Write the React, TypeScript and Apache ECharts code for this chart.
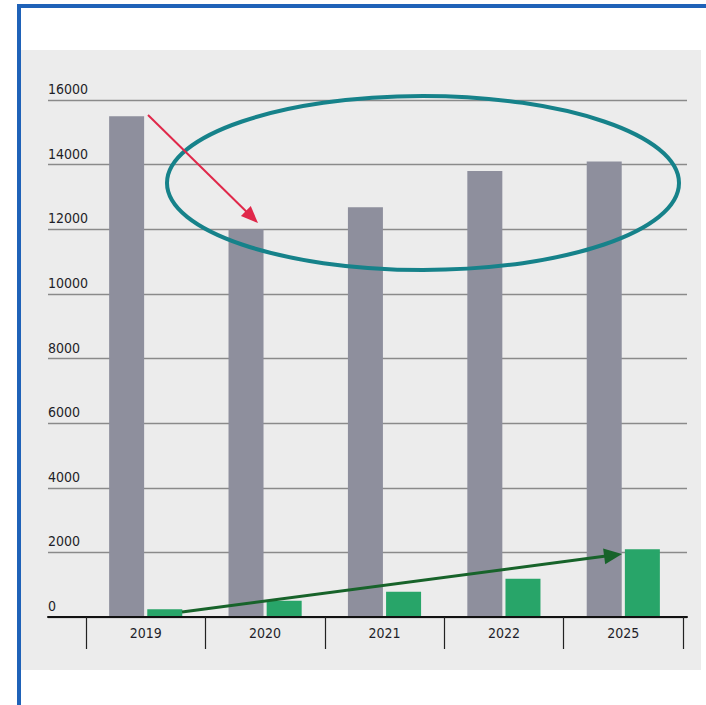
import React, { useEffect, useRef } from "react";
import * as echarts from "echarts";

const categories = ["2019", "2020", "2021", "2022", "2025"];
const grayValues = [15500, 12000, 12680, 13800, 14100];
const greenValues = [240, 500, 780, 1180, 2100];
const yMin = 0;
const yMax = 16000;
const yInterval = 2000;

const FONT = "'Liberation Sans Narrow', 'DejaVu Sans Condensed', 'Roboto', sans-serif";

function arrow(x1: number, y1: number, x2: number, y2: number, color: string, width: number, headLen: number, headHalf: number) {
  const dx = x2 - x1;
  const dy = y2 - y1;
  const len = Math.sqrt(dx * dx + dy * dy);
  const ux = dx / len;
  const uy = dy / len;
  const bx = x2 - ux * headLen;
  const by = y2 - uy * headLen;
  const px = -uy;
  const py = ux;
  return [
    {
      type: "line",
      shape: { x1, y1, x2: bx + ux * 2, y2: by + uy * 2 },
      style: { stroke: color, lineWidth: width },
      z: 100,
    },
    {
      type: "polygon",
      shape: {
        points: [
          [x2, y2],
          [bx + px * headHalf, by + py * headHalf],
          [bx - px * headHalf, by - py * headHalf],
        ],
      },
      style: { fill: color },
      z: 100,
    },
  ];
}

export default function App() {
  const ref = useRef<HTMLDivElement>(null);
  useEffect(() => {
    if (!ref.current) return;
    const chart = echarts.init(ref.current, null, { renderer: "svg" });
    chart.setOption({
      animation: false,
      backgroundColor: "#ffffff",
      grid: [
        { left: 48, right: 19, top: 100, bottom: 88 },
        { left: 86, right: 23, top: 100, bottom: 88 },
      ],
      xAxis: [
        {
          gridIndex: 0,
          type: "value",
          min: 0,
          max: 1,
          axisLine: { show: true, onZero: false, lineStyle: { color: "#111", width: 2 } },
          axisTick: { show: false },
          axisLabel: { show: false },
          splitLine: { show: false },
          z: 5,
        },
        {
          gridIndex: 1,
          type: "category",
          data: categories,
          axisLine: { show: true, lineStyle: { color: "#111", width: 2 } },
          axisTick: { show: true, length: 32, lineStyle: { color: "#222", width: 1.2 } },
          axisLabel: {
            color: "#1e1e28",
            fontSize: 14,
            fontFamily: FONT,
            margin: 9,
          },
          z: 5,
        },
      ],
      yAxis: [
        {
          gridIndex: 0,
          type: "value",
          min: yMin,
          max: yMax,
          interval: yInterval,
          axisLine: { show: false },
          axisTick: { show: false },
          axisLabel: {
            inside: true,
            margin: 0,
            color: "#1e1e28",
            fontSize: 14,
            fontFamily: FONT,
            align: "left",
            verticalAlign: "bottom",
            padding: [0, 0, 4, 0],
            formatter: (v: number) => String(v),
          },
          splitLine: { show: true, lineStyle: { color: "#8a8a8a", width: 1.3 } },
        },
        {
          gridIndex: 1,
          type: "value",
          min: yMin,
          max: yMax,
          interval: yInterval,
          show: false,
          splitLine: { show: false },
        },
      ],
      series: [
        {
          type: "bar",
          xAxisIndex: 1,
          yAxisIndex: 1,
          data: grayValues,
          barWidth: 35,
          barGap: "9%",
          itemStyle: { color: "#8e8f9d" },
          z: 3,
        },
        {
          type: "bar",
          xAxisIndex: 1,
          yAxisIndex: 1,
          data: greenValues,
          barWidth: 35,
          barGap: "9%",
          itemStyle: { color: "#28a569" },
          z: 3,
        },
      ],
      graphic: [
        {
          type: "rect",
          shape: { x: 20, y: 50, width: 681, height: 620 },
          style: { fill: "#ececec" },
          z: -10,
          silent: true,
        },
        {
          type: "rect",
          shape: { x: 19, y: 6, width: 720, height: 730 },
          style: { fill: "none", stroke: "#1f62b8", lineWidth: 4 },
          z: 100,
          silent: true,
        },
        {
          type: "ellipse",
          shape: { cx: 423, cy: 183, rx: 256, ry: 87 },
          style: { fill: "none", stroke: "#16828a", lineWidth: 4 },
          z: 100,
          silent: true,
        },
        ...arrow(148, 115, 258, 223, "#e0284a", 2, 17, 7),
        ...arrow(182, 612, 622, 554, "#17632a", 3, 18, 8),
      ],
    });
    return () => chart.dispose();
  }, []);
  return (
    <div
      ref={ref}
      style={{ position: "fixed", left: 0, top: 0, width: 706, height: 705, background: "#fff" }}
    />
  );
}
